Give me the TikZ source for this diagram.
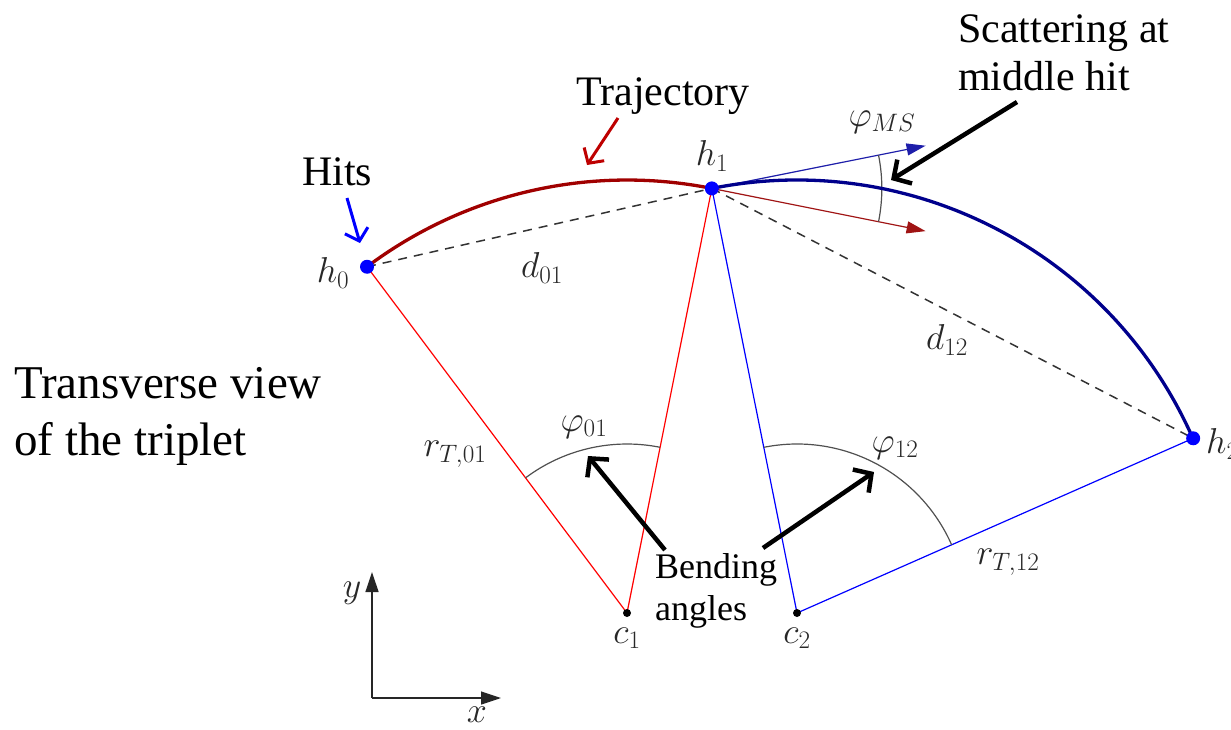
\RequirePackage{fix-cm}
\documentclass[tikz,border=0pt]{standalone}
\usepackage[no-math]{fontspec}
\setmainfont{Liberation Serif}
\usetikzlibrary{arrows.meta,calc}
\definecolor{trajred}{RGB}{160,0,0}
\definecolor{trajarrow}{RGB}{190,0,0}
\definecolor{navyarc}{RGB}{0,0,140}
\definecolor{hitblue}{RGB}{0,0,255}
\definecolor{lblgray}{RGB}{40,40,40}
\definecolor{arcgray}{RGB}{80,80,80}
\definecolor{tanblue}{RGB}{30,30,170}
\definecolor{tanred}{RGB}{160,20,20}
\begin{document}
\begin{tikzpicture}[x=1pt,y=-1pt,
  bigtxt/.style={font=\fontsize{42}{48}\selectfont, inner sep=0pt, align=left},
  hugetxt/.style={font=\fontsize{47}{57}\selectfont, inner sep=0pt, align=left},
  midtxt/.style={font=\fontsize{36}{42}\selectfont, inner sep=0pt, align=left},
  mathlbl/.style={font=\fontsize{36}{42}\selectfont, text=lblgray, inner sep=0pt},
  radred/.style={draw=red, line width=1.2pt},
  radblue/.style={draw=hitblue, line width=1.2pt},
  chord/.style={draw=black!80, line width=1.5pt, dash pattern=on 9pt off 7pt},
  anglearc/.style={draw=arcgray, line width=1.2pt},
  annot/.style={draw=black, line width=4.5pt, -{Straight Barb[length=13pt,width=28pt]}},
  annotcol/.style={line width=3pt, -{Straight Barb[length=11pt,width=24pt]}},
  tangent/.style={line width=1.2pt, -{Triangle[length=19pt,width=12pt]}},
  axisarrow/.style={draw=black!85, line width=1.3pt, -{Triangle[length=20pt,width=13pt]}},
  hitdot/.style={fill=hitblue},
  centerdot/.style={fill=black}
]
\useasboundingbox (0,0) rectangle (1231,729);
\clip (0,0) rectangle (1231,729);

% key points
\coordinate (c1) at (627,613);
\coordinate (c2) at (797,613);
\coordinate (h0) at ($(c1)+(-126.9:433)$);
\coordinate (h1) at ($(c1)+(-78.7:433)$);
\coordinate (h2) at ($(c2)+(-23.8:433)$);

% radii
\draw[radred] (h0) -- (c1) -- (h1);
\draw[radblue] (h1) -- (c2) -- (h2);

% chords
\draw[chord] (h0) -- (h1);
\draw[chord] (h1) -- (h2);

% bending angle arcs
\draw[anglearc] ($(c1)+(-126.9:169)$) arc[start angle=-126.9, end angle=-78.7, radius=169];
\draw[anglearc] ($(c2)+(-101.3:169)$) arc[start angle=-101.3, end angle=-23.8, radius=169];

% tangents at middle hit
\coordinate (tb) at ($(h1)+(-11.3:218)$);
\coordinate (tr) at ($(h1)+(11.3:218)$);
\draw[tangent, draw=tanblue, tanblue] (h1) -- (tb);
\draw[tangent, draw=tanred, tanred] (h1) -- (tr);
\draw[anglearc] ($(h1)+(-11.3:170)$) arc[start angle=-11.3, end angle=11.3, radius=170];

% trajectory
\draw[trajred, line width=3.3pt] (h0) arc[start angle=-126.9, end angle=-78.7, radius=433];
\draw[navyarc, line width=3.3pt] (h1) arc[start angle=-101.3, end angle=-23.8, radius=433];

% dots
\fill[hitdot] (h0) circle[radius=7];
\fill[hitdot] (h1) circle[radius=7];
\fill[hitdot] (h2) circle[radius=7];
\fill[centerdot] (c1) circle[radius=4];
\fill[centerdot] (c2) circle[radius=4];

% math labels
\node[mathlbl] (lh0) at (333,273) {$h_0$};
\node[mathlbl] (lh1) at (712,156) {$h_1$};
\node[mathlbl, anchor=west] (lh2) at (1206,444) {$h_2$};
\node[mathlbl] (ld01) at (542,268) {$d_{01}$};
\node[mathlbl] (ld12) at (947,340) {$d_{12}$};
\node[mathlbl] (lphims) at (882,122) {$\varphi_{MS}$};
\node[mathlbl] (lphi01) at (584,427) {$\varphi_{01}$};
\node[mathlbl] (lphi12) at (895,448) {$\varphi_{12}$};
\node[mathlbl] (lr01) at (455,454) {$r_{T,01}$};
\node[mathlbl] (lr12) at (1008,562) {$r_{T,12}$};
\node[mathlbl] (lc1) at (627,638) {$c_1$};
\node[mathlbl] (lc2) at (797,638) {$c_2$};

% axes
\coordinate (O) at (372,698);
\coordinate (ytip) at (372,572);
\coordinate (xtip) at (501,698);
\draw[axisarrow] (O) -- (ytip);
\draw[axisarrow] (O) -- (xtip);
\node[mathlbl] (ly) at (352,593) {$y$};
\node[mathlbl] (lx) at (477,715) {$x$};

% text labels
\node[bigtxt, anchor=base west] (ttraj) at (576,105) {Trajectory};
\node[bigtxt, anchor=base west] (thits) at (302,185) {Hits};
\node[bigtxt, anchor=base west] (tscat) at (958,90) {Scattering at\\middle hit};
\node[hugetxt, anchor=base west] (ttrans) at (14,455) {Transverse view\\of the triplet};
\node[midtxt, anchor=base west] (tbend) at (655,620) {Bending\\angles};

% annotation arrows
\coordinate (hitsA) at (347,198);
\coordinate (hitsB) at (360,243);
\draw[annotcol, draw=hitblue] (hitsA) -- (hitsB);
\coordinate (trajA) at (618,118);
\coordinate (trajB) at (587,165);
\draw[annotcol, draw=trajarrow] (trajA) -- (trajB);
\coordinate (scatA) at (1017,102);
\coordinate (scatB) at (891,180);
\draw[annot] (scatA) -- (scatB);
\coordinate (bendA) at (665,550);
\coordinate (bendB) at (588,456);
\draw[annot] (bendA) -- (bendB);
\coordinate (bendC) at (763,548);
\coordinate (bendD) at (874,472);
\draw[annot] (bendC) -- (bendD);
\end{tikzpicture}
\end{document}
